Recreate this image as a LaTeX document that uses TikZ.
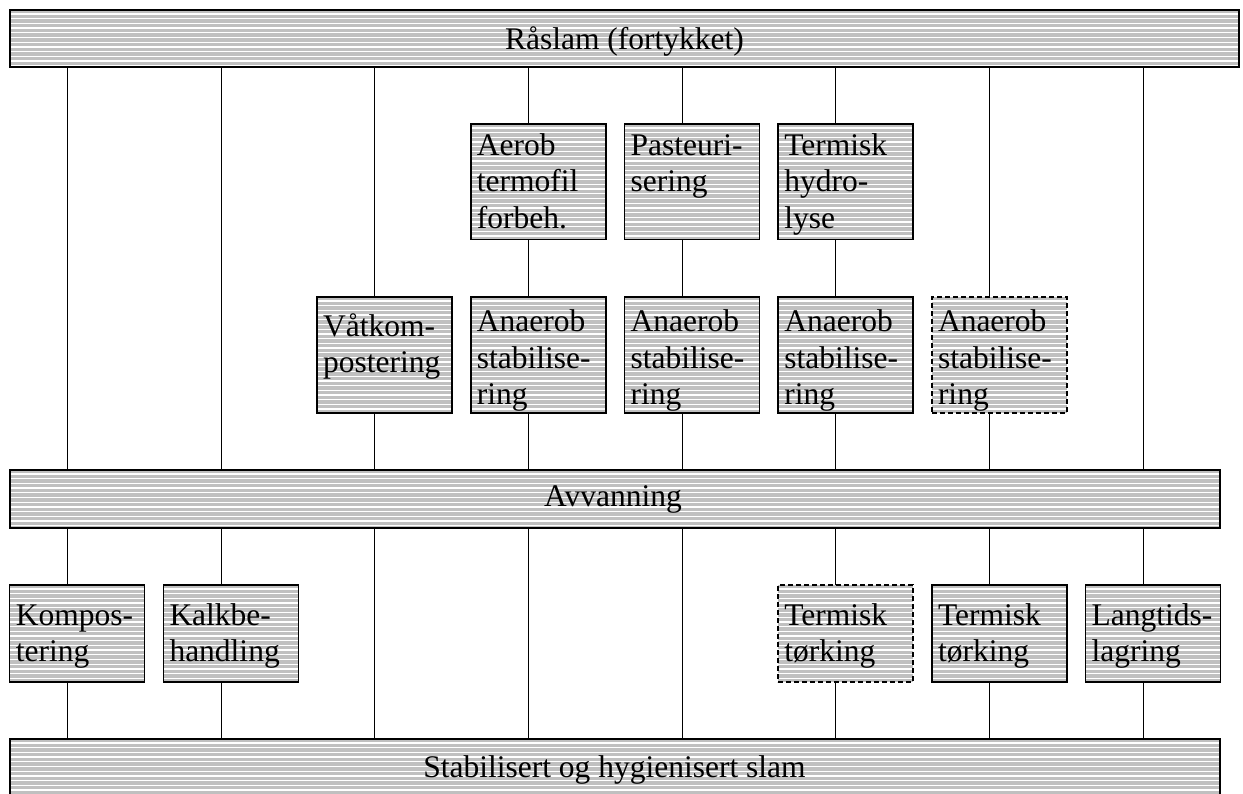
\documentclass[tikz,border=0pt]{standalone}
\usepackage{fontspec}
\setmainfont{Liberation Serif}
\definecolor{hgray}{RGB}{192,192,192}
\begin{document}
\begin{tikzpicture}[x=1pt,y=-1pt,
  hatch/.style={fill=hgray, path picture={\foreach \k in {0,...,26}{\draw[white,solid,line width=1.3pt] ([yshift={-4pt-\k*4.7pt}]path picture bounding box.north west) -- ([yshift={-4pt-\k*4.7pt}]path picture bounding box.north east);}}},
  bar/.style={draw=black, line width=1.6pt, hatch, rectangle, inner sep=0pt, outer sep=0pt, anchor=north west},
  box/.style={bar, minimum width=135pt},
  rowa/.style={box, minimum height=115.5pt},
  rowb/.style={box, minimum height=116pt},
  rowc/.style={box, minimum height=97pt},
  dashedbox/.style={dash pattern=on 5pt off 3pt},
  lbl/.style={font=\fontsize{31.5}{36.7}\selectfont, inner sep=0pt, anchor=base west},
  ctr/.style={lbl, anchor=base},
  conn/.style={line width=1.2pt}]
\useasboundingbox (0,0) rectangle (1243,793);

% line positions
\coordinate (x1) at (67.5,0);
\coordinate (x2) at (221.5,0);
\coordinate (x3) at (374.5,0);
\coordinate (x4) at (528.5,0);
\coordinate (x5) at (682.5,0);
\coordinate (x6) at (835.5,0);
\coordinate (x7) at (989.5,0);
\coordinate (x8) at (1143.5,0);

% bars
\node[bar, minimum width=1229pt, minimum height=57pt] (raw) at (10,10) {};
\node[bar, minimum width=1210pt, minimum height=58pt] (dew) at (10,470) {};
\node[bar, minimum width=1210pt, minimum height=60pt] (fin) at (10,739) {};

% row 1
\node[rowa] (a1) at (470.7,124) {};
\node[rowa] (a2) at (624.4,124) {};
\node[rowa] (a3) at (778.1,124) {};
% row 2
\node[rowb] (v) at (317,297) {};
\node[rowb] (n1) at (470.7,297) {};
\node[rowb] (n2) at (624.4,297) {};
\node[rowb] (n3) at (778.1,297) {};
\node[rowb, dashedbox] (n4) at (931.8,297) {};
% row 3
\node[rowc] (k1) at (9.6,585) {};
\node[rowc] (k2) at (163.3,585) {};
\node[rowc, dashedbox] (t1) at (778.1,585) {};
\node[rowc] (t2) at (931.8,585) {};
\node[rowc] (t3) at (1085.5,585) {};

% connectors
\draw[conn] (raw.south -| x1) -- (dew.north -| x1);
\draw[conn] (dew.south -| x1) -- (k1.north -| x1);
\draw[conn] (k1.south -| x1) -- (fin.north -| x1);
\draw[conn] (raw.south -| x2) -- (dew.north -| x2);
\draw[conn] (dew.south -| x2) -- (k2.north -| x2);
\draw[conn] (k2.south -| x2) -- (fin.north -| x2);
\draw[conn] (raw.south -| x3) -- (v.north -| x3);
\draw[conn] (v.south -| x3) -- (dew.north -| x3);
\draw[conn] (dew.south -| x3) -- (fin.north -| x3);
\draw[conn] (raw.south -| x4) -- (a1.north -| x4);
\draw[conn] (a1.south -| x4) -- (n1.north -| x4);
\draw[conn] (n1.south -| x4) -- (dew.north -| x4);
\draw[conn] (dew.south -| x4) -- (fin.north -| x4);
\draw[conn] (raw.south -| x5) -- (a2.north -| x5);
\draw[conn] (a2.south -| x5) -- (n2.north -| x5);
\draw[conn] (n2.south -| x5) -- (dew.north -| x5);
\draw[conn] (dew.south -| x5) -- (fin.north -| x5);
\draw[conn] (raw.south -| x6) -- (a3.north -| x6);
\draw[conn] (a3.south -| x6) -- (n3.north -| x6);
\draw[conn] (n3.south -| x6) -- (dew.north -| x6);
\draw[conn] (dew.south -| x6) -- (t1.north -| x6);
\draw[conn] (t1.south -| x6) -- (fin.north -| x6);
\draw[conn] (raw.south -| x7) -- (n4.north -| x7);
\draw[conn] (n4.south -| x7) -- (dew.north -| x7);
\draw[conn] (dew.south -| x7) -- (t2.north -| x7);
\draw[conn] (t2.south -| x7) -- (fin.north -| x7);
\draw[conn] (raw.south -| x8) -- (dew.north -| x8);
\draw[conn] (dew.south -| x8) -- (t3.north -| x8);
\draw[conn] (t3.south -| x8) -- (fin.north -| x8);

% bar texts
\node[ctr] (rawt) at (624.5,49.3) {Råslam (fortykket)};
\node[ctr] (dewt) at (613,506.7) {Avvanning};
\node[ctr] (fint) at (614.5,777.7) {Stabilisert og hygienisert slam};

% row 1 texts
\node[lbl] (a1l1) at (476.7,155) {Aerob};
\node[lbl] (a1l2) at (476.7,191.7) {termofil};
\node[lbl] (a1l3) at (476.7,228.4) {forbeh.};
\node[lbl] (a2l1) at (630.4,155) {Pasteuri-};
\node[lbl] (a2l2) at (630.4,191.7) {sering};
\node[lbl] (a3l1) at (784.1,155) {Termisk};
\node[lbl] (a3l2) at (784.1,191.7) {hydro-};
\node[lbl] (a3l3) at (784.1,228.4) {lyse};

% row 2 texts
\node[lbl] (vl1) at (323,336) {Våtkom-};
\node[lbl] (vl2) at (323,372.7) {postering};
\node[lbl] (n1l1) at (476.7,331.5) {Anaerob};
\node[lbl] (n1l2) at (476.7,368.2) {stabilise-};
\node[lbl] (n1l3) at (476.7,404.9) {ring};
\node[lbl] (n2l1) at (630.4,331.5) {Anaerob};
\node[lbl] (n2l2) at (630.4,368.2) {stabilise-};
\node[lbl] (n2l3) at (630.4,404.9) {ring};
\node[lbl] (n3l1) at (784.1,331.5) {Anaerob};
\node[lbl] (n3l2) at (784.1,368.2) {stabilise-};
\node[lbl] (n3l3) at (784.1,404.9) {ring};
\node[lbl] (n4l1) at (937.8,331.5) {Anaerob};
\node[lbl] (n4l2) at (937.8,368.2) {stabilise-};
\node[lbl] (n4l3) at (937.8,404.9) {ring};

% row 3 texts
\node[lbl] (k1l1) at (15.6,625) {Kompos-};
\node[lbl] (k1l2) at (15.6,661.7) {tering};
\node[lbl] (k2l1) at (169.3,625) {Kalkbe-};
\node[lbl] (k2l2) at (169.3,661.7) {handling};
\node[lbl] (t1l1) at (784.1,625) {Termisk};
\node[lbl] (t1l2) at (784.1,661.7) {tørking};
\node[lbl] (t2l1) at (937.8,625) {Termisk};
\node[lbl] (t2l2) at (937.8,661.7) {tørking};
\node[lbl] (t3l1) at (1091.5,625) {Langtids-};
\node[lbl] (t3l2) at (1091.5,661.7) {lagring};
\end{tikzpicture}
\end{document}
